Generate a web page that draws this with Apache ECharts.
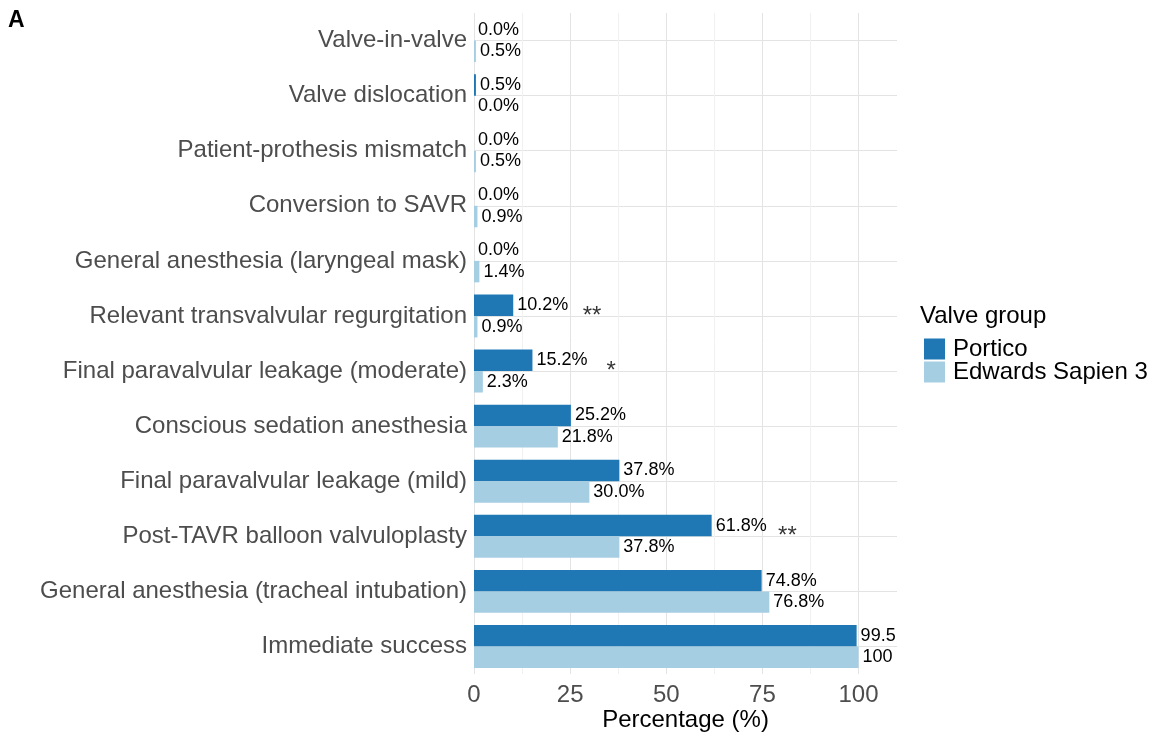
<!DOCTYPE html>
<html>
<head>
<meta charset="utf-8">
<script src="https://cdn.jsdelivr.net/npm/echarts@6/dist/echarts.min.js"></script>
<style>
  html, body { margin: 0; padding: 0; background: #fff; }
  #chart { width: 1159px; height: 736px; }
</style>
</head>
<body>
<div id="chart"></div>
<script>
// categories, top to bottom
const categories = [
  'Valve-in-valve',
  'Valve dislocation',
  'Patient-prothesis mismatch',
  'Conversion to SAVR',
  'General anesthesia (laryngeal mask)',
  'Relevant transvalvular regurgitation',
  'Final paravalvular leakage (moderate)',
  'Conscious sedation anesthesia',
  'Final paravalvular leakage (mild)',
  'Post-TAVR balloon valvuloplasty',
  'General anesthesia (tracheal intubation)',
  'Immediate success'
];
const portico = [0.0, 0.5, 0.0, 0.0, 0.0, 10.2, 15.2, 25.2, 37.8, 61.8, 74.8, 99.5];
const sapien = [0.5, 0.0, 0.5, 0.9, 1.4, 0.9, 2.3, 21.8, 30.0, 37.8, 76.8, 100];
const porticoLabels = ['0.0%', '0.5%', '0.0%', '0.0%', '0.0%', '10.2%', '15.2%', '25.2%', '37.8%', '61.8%', '74.8%', '99.5'];
const sapienLabels = ['0.5%', '0.0%', '0.5%', '0.9%', '1.4%', '0.9%', '2.3%', '21.8%', '30.0%', '37.8%', '76.8%', '100'];
// significance marks: [x position, category, text]
const sigX = [30.7, 35.7, 81.5];
const sigCat = ['Relevant transvalvular regurgitation', 'Final paravalvular leakage (moderate)', 'Post-TAVR balloon valvuloplasty'];
const sigText = ['**', '*', '**'];
const xTicks = [0, 25, 50, 75, 100];

const font = '"Liberation Sans", Arial, sans-serif';
let myChart = echarts.init(document.getElementById('chart'));

let option = {
  animation: false,
  textStyle: { fontFamily: font },
  grid: { left: 474, right: 262, top: 13, bottom: 62, containLabel: false, outerBoundsMode: 'none' },
  graphic: [
    { type: 'text', left: 8, top: 9, style: { text: 'A', font: 'bold 23px ' + font, fill: '#000' } },
    { type: 'text', left: 920, top: 304, style: { text: 'Valve group', font: '24px ' + font, fill: '#000' } }
  ],
  legend: {
    orient: 'vertical',
    left: 919,
    top: 332,
    itemWidth: 21,
    itemHeight: 21,
    itemGap: -1,
    icon: 'rect',
    textStyle: { fontSize: 24, lineHeight: 21, color: '#000', fontFamily: font, padding: [0, 0, 0, 3] },
    data: ['Portico', 'Edwards Sapien 3']
  },
  xAxis: {
    type: 'value',
    min: 0,
    max: 110,
    interval: 12.5,
    name: 'Percentage (%)',
    nameLocation: 'middle',
    nameGap: 34,
    nameMoveOverlap: false,
    nameTextStyle: { fontSize: 24, color: '#000', fontFamily: font },
    axisLine: { show: false },
    axisTick: { show: false },
    axisLabel: {
      fontSize: 24,
      color: '#4d4d4d',
      margin: 9,
      formatter: function (v) { return xTicks.indexOf(v) >= 0 ? String(v) : ''; }
    },
    splitLine: {
      show: true,
      showMaxLine: false,
      lineStyle: { color: ['#e3e3e3', '#f1f1f1'], width: 1 }
    }
  },
  yAxis: {
    type: 'category',
    inverse: true,
    data: categories,
    axisLine: { show: false },
    axisTick: { show: false },
    axisLabel: { fontSize: 24, color: '#4d4d4d', margin: 7 },
    splitLine: { show: true, alignWithLabel: true, lineStyle: { color: '#e3e3e3' } }
  },
  series: [
    {
      name: 'Portico',
      type: 'bar',
      data: portico,
      barGap: 0,
      barCategoryGap: '22%',
      itemStyle: { color: '#1f78b4' },
      label: {
        show: true, position: 'right', distance: 4, fontSize: 18, color: '#000',
        formatter: p => porticoLabels[p.dataIndex]
      }
    },
    {
      name: 'Edwards Sapien 3',
      type: 'bar',
      data: sapien,
      barGap: 0,
      barCategoryGap: '22%',
      itemStyle: { color: '#a6cee3' },
      label: {
        show: true, position: 'right', distance: 4, fontSize: 18, color: '#000',
        formatter: p => sapienLabels[p.dataIndex]
      }
    },
    {
      type: 'scatter',
      symbolSize: 0,
      silent: true,
      data: sigX.map((x, i) => [x, sigCat[i]]),
      label: {
        show: true, position: 'inside', fontSize: 24, color: '#000', offset: [0, 0],
        formatter: p => sigText[p.dataIndex]
      }
    }
  ]
};
myChart.setOption(option);
</script>
</body>
</html>
